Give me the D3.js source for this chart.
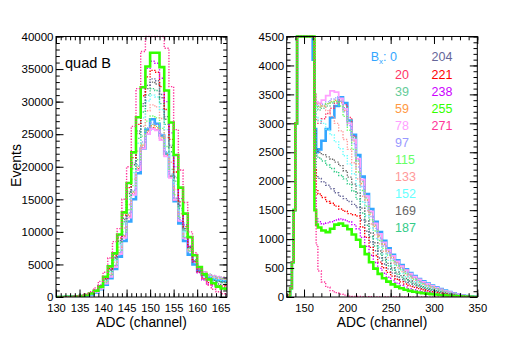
<!DOCTYPE html>
<html>
<head>
<meta charset="utf-8">
<script src="https://cdn.jsdelivr.net/npm/d3@7"></script>
<style>
  body { margin: 0; background: #fff; }
  svg text { font-family: "Liberation Sans", Arial, Helvetica, sans-serif; }
</style>
</head>
<body>
<svg id="chart" width="507" height="345"></svg>
<script>
// ---- data: Bx settings and histogram counts ----
const bxLabels = ["0", "20", "39", "59", "78", "97", "115", "133", "152", "169", "187", "204", "221", "238", "255", "271"];

// left panel: 1-channel bins, 130 ... 166
const leftEdges = d3.range(130, 168, 1);
const leftBx0 = [0,10,30,50,90,150,250,400,700,1200, 1900,2900,4300,6200,8600,11600,15000,19000,22800,25700, 27300,26600,24800,22000,18500,14700,11300,8600,6500,5000, 4000,3400,3000,2750,2600,2500,2450];
const leftBx20 = [0,10,30,60,100,170,280,450,750,1300, 2100,3200,4700,6700,9300,12400,15900,19700,23000,25200, 26000,25700,24200,21700,18400,14900,11700,9000,7000,5500, 4500,3800,3400,3200,3050,2950,2900];
const leftBx39 = [0,10,30,60,100,170,290,460,780,1330, 2150,3250,4800,6800,9500,12700,16200,20100,23500,25700, 26500,26200,24700,22100,18700,15100,11800,9100,7100,5600, 4600,3900,3500,3300,3150,3050,3000];
const leftBx59 = [0,10,30,60,100,170,280,450,770,1310, 2120,3220,4750,6750,9400,12600,16100,19900,23300,25500, 26300,26000,24500,21900,18600,15000,11750,9050,7050,5550, 4550,3850,3450,3250,3100,3000,2950];
const leftBx78 = [0,10,30,55,95,160,270,430,740,1260, 2050,3100,4600,6600,9100,12200,15700,19500,22800,25000, 25800,25600,24100,21600,18300,14900,11700,9000,7000,5500, 4500,3800,3400,3200,3050,2950,2900];
const leftBx97 = [0,10,30,60,100,175,290,470,790,1350, 2200,3300,4850,6900,9600,12900,16400,20300,23800,26000, 26800,26500,25000,22300,18900,15200,11900,9100,7000,5500, 4500,3800,3400,3150,3000,2900,2850];
const leftBx115 = [0,10,30,60,100,180,300,490,820,1400, 2300,3450,5050,7200,10000,13400,17100,21100,24700,27000, 27800,27500,25900,23100,19600,15700,12200,9300,7100,5500, 4450,3750,3300,3050,2900,2800,2750];
const leftBx133 = [0,10,30,60,105,190,320,520,870,1480, 2450,3650,5350,7650,10600,14200,18100,22400,26200,28600, 29500,29200,27400,24500,20700,16500,12800,9700,7300,5600, 4450,3700,3250,2950,2800,2700,2650];
const leftBx152 = [0,10,30,60,110,200,340,550,920,1560, 2550,3850,5650,8050,11200,15000,19100,23600,27500,30100, 31000,30700,28800,25700,21700,17300,13300,10000,7500,5600, 4400,3600,3100,2800,2650,2550,2500];
const leftBx169 = [0,10,30,60,115,210,360,580,980,1660, 2700,4100,6000,8550,11900,15900,20300,25100,29300,32000, 33000,32700,30600,27300,23000,18300,14000,10500,7700,5700, 4300,3400,2850,2550,2400,2300,2250];
const leftBx187 = [0,10,30,60,110,205,350,565,950,1610, 2620,3980,5830,8300,11550,15450,19700,24350,28400,31000, 32000,31700,29700,26500,22300,17800,13600,10200,7500,5550, 4200,3300,2750,2450,2300,2200,2150];
const leftBx204 = [0,10,30,60,115,215,365,590,1000,1690, 2750,4170,6100,8700,12100,16200,20600,25500,29700,32500, 33500,33200,31100,27700,23300,18500,14100,10500,7600,5500, 4000,3000,2450,2150,2000,1900,1850];
const leftBx221 = [0,10,30,60,120,220,380,610,1040,1760, 2850,4330,6350,9050,12600,16800,21400,26500,30900,33800, 34800,34500,32300,28800,24200,19200,14600,10800,7700,5400, 3800,2800,2200,1900,1750,1700,1650];
const leftBx238 = [0,10,25,55,115,220,390,640,1080,1830, 2970,4500,6600,9400,13100,17500,22300,27600,32100,35100, 36200,35900,33600,30000,25200,20000,15100,11100,7800,5400, 3700,2600,1950,1700,1550,1450,1400];
const leftBx255 = [0,10,20,40,80,150,300,550,950,1600, 3100,4700,6700,9600,13000,17500,22200,27600,32200,35400, 37500,37500,35300,31700,26800,21800,16800,12800,9200,6400, 4600,3500,2700,2100,1600,1300,1250];
const leftBx271 = [0,20,40,80,150,250,450,800,1400,2400, 3800,6000,8500,10500,15000,20000,26200,32000,37700,42000, 45000,45000,42000,38200,32300,25700,19500,14500,10000,6800, 4300,2800,1800,1200,800,500,350];

// right panel: coarse bins; the main peak (142-160) is far off scale
const rightEdges = [130, 132, 134, 136, 138, 140, 142, 160, 162, 164, 166].concat(d3.range(170, 351, 5));
const riseCounts = [0, 30, 150, 600, 1500, 3000, 40000];
const rightBx0 = [4100,2900,2500,2550,2700,2900,3100,3300,3450,3350,3050,2800,2450,2080,1780,1520,1300,1120,970,840,730,635,550,478,415,360,312,270,232,198,166,137,110,85,63,44,28,16,8,3];
const rightBx20 = [4800,3200,3050,3000,3080,3170,3260,3350,3400,3320,3100,2780,2380,2020,1730,1470,1260,1080,940,810,700,610,530,460,400,345,300,260,225,190,160,130,105,80,60,42,27,15,8,3];
const rightBx39 = [4800,3400,3250,3230,3260,3300,3350,3380,3380,3270,3050,2750,2350,1995,1710,1455,1245,1070,925,800,695,603,522,453,393,341,296,256,220,188,157,130,104,81,60,42,27,15,8,3];
const rightBx59 = [4800,3450,3300,3280,3300,3340,3380,3400,3360,3220,3000,2700,2300,1960,1675,1428,1220,1050,905,783,680,590,510,443,384,333,289,250,215,183,154,127,102,79,58,41,26,15,7,3];
const rightBx78 = [4800,3500,3370,3350,3400,3480,3560,3540,3430,3250,3000,2720,2390,2030,1740,1480,1270,1090,945,815,710,615,535,465,403,350,303,262,225,192,161,133,107,82,61,43,27,15,8,3];
const rightBx97 = [4800,3500,3320,3300,3330,3370,3420,3440,3380,3200,2960,2650,2245,1910,1635,1390,1185,1020,880,760,658,571,494,429,372,322,279,242,208,177,149,123,99,76,56,39,25,14,7,3];
const rightBx115 = [4800,3500,3300,3280,3300,3340,3370,3380,3300,3120,2880,2550,2160,1840,1570,1335,1140,976,840,725,628,544,470,407,353,306,265,229,197,168,141,117,94,72,54,37,24,14,7,2];
const rightBx133 = [4800,3500,3350,3330,3300,3220,3120,3000,2870,2720,2550,2320,2040,1740,1490,1260,1075,918,790,680,587,508,438,379,328,284,246,213,183,157,131,108,87,67,50,35,22,13,6,2];
const rightBx152 = [4800,3300,3100,3050,3000,2900,2800,2680,2560,2440,2300,2130,1925,1645,1405,1190,1010,860,740,633,546,471,406,351,303,263,228,197,169,145,121,100,80,62,46,32,20,12,6,2];
const rightBx169 = [4800,2900,2550,2500,2460,2420,2380,2330,2270,2180,2070,1950,1795,1535,1310,1105,936,795,680,581,500,430,370,319,276,239,207,179,154,131,110,91,73,57,42,29,19,11,5,2];
const rightBx187 = [4800,2800,2450,2400,2350,2280,2220,2160,2100,2040,1950,1830,1690,1450,1240,1040,880,745,635,541,464,398,342,294,254,220,190,164,142,121,102,84,67,52,39,27,17,10,5,1];
const rightBx204 = [4800,2500,2100,2050,1990,1930,1870,1800,1740,1700,1650,1600,1545,1330,1135,950,800,675,570,485,413,353,302,259,223,193,167,144,124,106,89,74,59,46,34,24,15,9,4,1];
const rightBx221 = [4800,2200,1850,1780,1720,1650,1620,1570,1520,1480,1440,1420,1400,1210,1030,858,717,602,506,426,361,307,262,224,192,166,144,124,107,91,77,64,51,40,29,20,13,7,4,1];
const rightBx238 = [4800,1700,1350,1300,1260,1280,1300,1330,1350,1330,1300,1250,1180,1030,875,720,595,495,410,340,285,240,200,170,145,125,108,93,81,69,58,48,39,30,22,15,10,6,3,0];
const rightBx255 = [4800,1500,1250,1200,1150,1120,1180,1250,1270,1230,1170,1080,990,870,740,600,490,400,325,265,218,180,150,125,105,90,78,67,58,50,42,35,28,22,16,11,7,4,2,0];
const rightBx271 = [4800,2000,900,450,260,170,110,75,50,32,15,10,8,6,5,4,3,3,2,2,1,1,1,0,0,0,0,0,0,0,0,0,0,0,0,0,0,0,0,0];

// tick labels
const leftXTicks = [130, 135, 140, 145, 150, 155, 160, 165];
const leftYTicks = [0, 5000, 10000, 15000, 20000, 25000, 30000, 35000, 40000];
const rightXTicks = [150, 200, 250, 300, 350];
const rightYTicks = [0, 500, 1000, 1500, 2000, 2500, 3000, 3500, 4000, 4500];

// ---- styles ----
const lineColors = ["#33a6ff", "#ff3366", "#66cc99", "#ff9944", "#ffa0ff", "#9999ff", "#66ff66", "#ff9999",
                    "#66ffff", "#666666", "#33cc88", "#666699", "#ff0000", "#cc00ff", "#33ff00", "#ff3399"];

const leftSeries = [leftBx0, leftBx20, leftBx39, leftBx59, leftBx78, leftBx97, leftBx115, leftBx133,
                    leftBx152, leftBx169, leftBx187, leftBx204, leftBx221, leftBx238, leftBx255, leftBx271];
const rightSeries = [rightBx0, rightBx20, rightBx39, rightBx59, rightBx78, rightBx97, rightBx115, rightBx133,
                     rightBx152, rightBx169, rightBx187, rightBx204, rightBx221, rightBx238, rightBx255, rightBx271];

function lineStyle(bx) {
  if (bx === "0" || bx === "255") return { width: 2.6, dash: null };
  if (bx === "78") return { width: 1.8, dash: null };
  return { width: 1.4, dash: "1.3,1.5" };
}

const svg = d3.select("#chart");
svg.append("rect").attr("width", 507).attr("height", 345).attr("fill", "#fff");

function drawPanel(opt) {
  const x = d3.scaleLinear().domain(opt.xDomain).range([opt.x0, opt.x1]);
  const y = d3.scaleLinear().domain([0, opt.yMax]).range([opt.y1, opt.y0]).clamp(true);

  const clipId = opt.id + "-clip";
  svg.append("clipPath").attr("id", clipId)
    .append("rect")
    .attr("x", opt.x0).attr("y", opt.y0 - 2)
    .attr("width", opt.x1 - opt.x0).attr("height", opt.y1 - opt.y0 + 2);

  const g = svg.append("g").attr("clip-path", `url(#${clipId})`);

  const line = d3.line()
    .x(d => x(d[0]))
    .y(d => y(d[1]))
    .curve(d3.curveStepAfter);

  opt.series.forEach((values, i) => {
    const pts = values.map((v, j) => [opt.edges[j], v]);
    pts.push([opt.edges[values.length], values[values.length - 1]]);
    const st = lineStyle(bxLabels[i]);
    g.append("path")
      .attr("d", line(pts))
      .attr("fill", "none")
      .attr("stroke", lineColors[i])
      .attr("stroke-width", st.width)
      .attr("stroke-dasharray", st.dash);
  });

  // frame
  svg.append("rect")
    .attr("x", opt.x0).attr("y", opt.y0)
    .attr("width", opt.x1 - opt.x0).attr("height", opt.y1 - opt.y0)
    .attr("fill", "none").attr("stroke", "#000").attr("stroke-width", 1);

  const major = 7.5, minor = 3.8;
  const xMinor = d3.range(opt.xDomain[0], opt.xDomain[1] + 1e-6, opt.xMinorStep);
  const yMinor = d3.range(0, opt.yMax + 1e-6, opt.yMinorStep);

  function styleAxis(sel, fs) {
    sel.select(".domain").remove();
    sel.selectAll("line").attr("stroke", "#000");
    sel.selectAll("text").attr("font-size", fs).attr("fill", "#000")
      .style("font-family", "'Liberation Sans', Arial, sans-serif");
  }

  // bottom
  svg.append("g").attr("transform", `translate(0,${opt.y1})`)
    .call(d3.axisBottom(x).tickValues(opt.xTicks).tickSize(-major).tickPadding(7).tickFormat(d3.format("d")))
    .call(s => styleAxis(s, 11.2));
  svg.append("g").attr("transform", `translate(0,${opt.y1})`)
    .call(d3.axisBottom(x).tickValues(xMinor).tickSize(-minor).tickFormat(""))
    .call(s => styleAxis(s, 0));
  // top
  svg.append("g").attr("transform", `translate(0,${opt.y0})`)
    .call(d3.axisTop(x).tickValues(opt.xTicks).tickSize(-major).tickFormat(""))
    .call(s => styleAxis(s, 0));
  svg.append("g").attr("transform", `translate(0,${opt.y0})`)
    .call(d3.axisTop(x).tickValues(xMinor).tickSize(-minor).tickFormat(""))
    .call(s => styleAxis(s, 0));
  // left
  svg.append("g").attr("transform", `translate(${opt.x0},0)`)
    .call(d3.axisLeft(y).tickValues(opt.yTicks).tickSize(-major).tickPadding(2.5).tickFormat(d3.format("d")))
    .call(s => styleAxis(s, 11.5));
  svg.append("g").attr("transform", `translate(${opt.x0},0)`)
    .call(d3.axisLeft(y).tickValues(yMinor).tickSize(-minor).tickFormat(""))
    .call(s => styleAxis(s, 0));
  // right
  svg.append("g").attr("transform", `translate(${opt.x1},0)`)
    .call(d3.axisRight(y).tickValues(opt.yTicks).tickSize(-major).tickFormat(""))
    .call(s => styleAxis(s, 0));
  svg.append("g").attr("transform", `translate(${opt.x1},0)`)
    .call(d3.axisRight(y).tickValues(yMinor).tickSize(-minor).tickFormat(""))
    .call(s => styleAxis(s, 0));

  svg.append("text")
    .attr("x", (opt.x0 + opt.x1) / 2).attr("y", 327)
    .attr("text-anchor", "middle").attr("font-size", 13.8)
    .text("ADC (channel)");

  return { x, y };
}

drawPanel({
  id: "left", x0: 56, x1: 227, y0: 36.5, y1: 297,
  xDomain: [130, 166.34], yMax: 40000,
  edges: leftEdges, series: leftSeries,
  xTicks: leftXTicks, xMinorStep: 1, yTicks: leftYTicks, yMinorStep: 1000
});

drawPanel({
  id: "right", x0: 286.7, x1: 477.3, y0: 36.5, y1: 297,
  xDomain: [130, 350], yMax: 4500,
  edges: rightEdges, series: rightSeries.map(s => riseCounts.concat(s)),
  xTicks: rightXTicks, xMinorStep: 10, yTicks: rightYTicks, yMinorStep: 100
});

// y axis title
svg.append("text")
  .attr("transform", "translate(20.5,165.5) rotate(-90)")
  .attr("text-anchor", "middle").attr("font-size", 14)
  .text("Events");

// panel label
svg.append("text")
  .attr("x", 65).attr("y", 67.5)
  .attr("font-size", 14.5)
  .text("quad B");

// legend of Bx values
const legend = svg.append("g").attr("font-size", 12.5);
bxLabels.forEach((bx, i) => {
  const col = i < 11 ? 0 : 1;
  const row = col === 0 ? i : i - 11;
  const yPos = (row === 0 ? 56.5 : 75 + (row - 1) * 16.95) + 4.4;
  if (i === 0) {
    const t = legend.append("text")
      .attr("x", 397).attr("y", yPos)
      .attr("text-anchor", "end")
      .attr("fill", lineColors[i]);
    t.append("tspan").text("B");
    t.append("tspan").attr("font-size", 8).attr("dy", 3).text("x");
    t.append("tspan").attr("dy", -3).text(": " + bx);
  } else {
    legend.append("text")
      .attr("x", col === 0 ? 395 : 431.5).attr("y", yPos)
      .attr("fill", lineColors[i])
      .text(bx);
  }
});
</script>
</body>
</html>
